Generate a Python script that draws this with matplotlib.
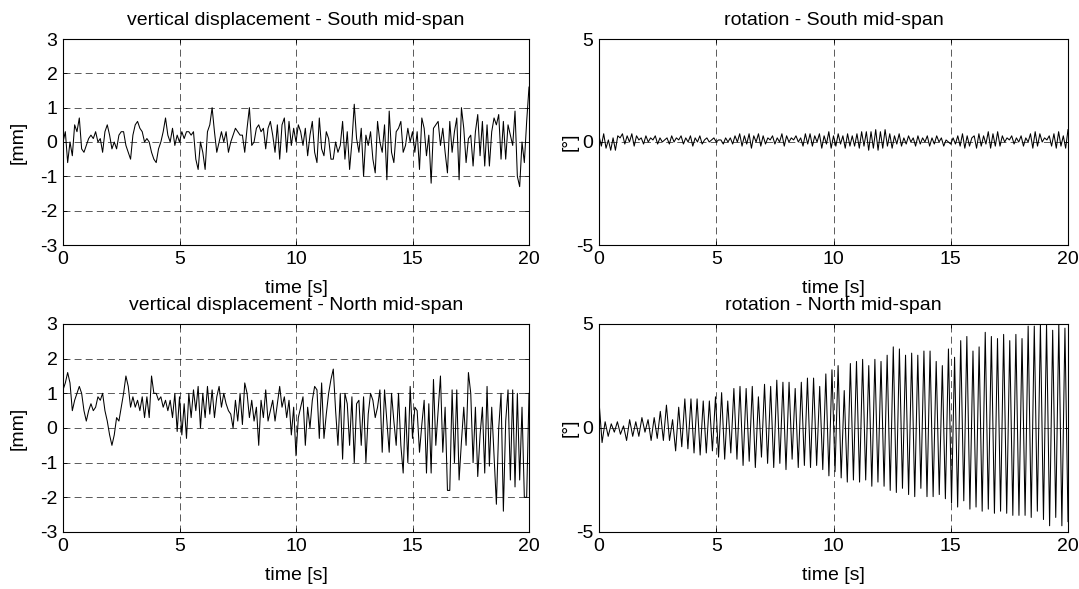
import numpy as np
import matplotlib
matplotlib.use('Agg')
import matplotlib.pyplot as plt

plt.rcParams['font.family'] = ['Liberation Sans', 'DejaVu Sans']
plt.rcParams['axes.unicode_minus'] = False
plt.rcParams['lines.scale_dashes'] = False

# vertical displacement, South mid-span [mm], sampled every 0.1 s from 0 to 20 s
disp_south = [
    0.0, 0.3, -0.6, 0.0, -0.4, 0.5, 0.3, 0.7, -0.2, -0.3,
    -0.1, 0.1, 0.2, 0.1, 0.3, 0.0, 0.1, -0.3, 0.3, 0.5,
    0.2, -0.2, 0.0, -0.2, 0.2, 0.3, 0.3, -0.1, -0.3, -0.5,
    0.2, 0.5, 0.6, 0.4, 0.3, 0.0, 0.1, 0.0, -0.3, -0.5,
    -0.6, -0.2, 0.0, 0.3, 0.7, 0.2, 0.0, 0.4, -0.1, 0.2,
    0.0, 0.3, 0.1, 0.3, 0.3, 0.2, 0.3, -0.5, -0.8, 0.0,
    -0.3, -0.8, 0.3, 0.5, 1.0, 0.3,
    -0.3, 0.0, 0.3, 0.0,
    0.3, -0.3, 0.0, 0.2, 0.4, 0.3, 0.2, 0.2, -0.3, 0.4,
    1.0, -0.1, 0.0, 0.4, 0.5, 0.3, 0.4, -0.2, 0.4, 0.6,
    0.2, -0.3, 0.5, -0.5, 0.5, 0.7, -0.3, 0.6, -0.1, 0.4,
    0.0, 0.5, 0.3, -0.1, 0.4, -0.4, 0.2, 0.6, -0.3, -0.6,
    0.7, -0.2, -0.4, 0.3, 0.1, -0.5, -0.5, 0.0, -0.3, -0.1,
    0.6, -0.5, 0.3, -0.8, 0.0, 1.1, 0.1, -0.3, 0.4, -1.0,
    0.2, -0.1, 0.3,
    -0.5, -0.9, 0.6, 0.0, -0.3, 0.5, -1.1,
    0.9, -0.3, -0.6, 0.3, 0.4, 0.6, -0.3, -0.1, 0.4, 0.0,
    0.3, -0.3, 0.3, -0.8, 0.7, 0.4, -0.4, 0.2, -1.2, 0.4,
    0.5, 0.6, -0.1, 0.4, -0.3, -0.9, 0.6, -0.3, 0.3, 0.7,
    -1.1, 1.0, 0.4, -0.6, 0.1, 0.2, -0.7, 0.3, 0.8, -0.4,
    0.6, -0.7, 0.5, -0.7, 0.3, 0.7, 0.5, 0.8, -0.5, 0.6,
    -0.5, 0.5, 0.2, -0.1, 0.9, -1.0, -1.3, 0.0, -0.6, 0.6,
    1.6,
]

# vertical displacement, North mid-span [mm], every 0.1 s
disp_north = [
    1.1, 1.3, 1.6, 1.3, 0.5, 0.8, 1.0, 1.2, 1.0, 0.5,
    0.2, 0.5, 0.7, 0.5, 0.6, 0.9, 0.8, 1.0, 0.5, 0.2,
    -0.2, -0.5, -0.2, 0.3, 0.2, 0.6, 1.0, 1.5, 1.2, 0.6,
    0.9, 0.6, 0.8, 0.5, 0.9, 0.3, 0.9, 0.3, 1.5, 1.0,
    1.0, 0.8, 0.9, 0.6, 0.8, 0.5, 0.8, 0.3, 1.0, -0.1,
    0.9, -0.2, 0.7, -0.3, 1.0, 0.3, 1.1, 0.5, 1.2, 0.0,
    1.0, 0.3, 1.2, 0.4, 1.1, 0.3,
    0.9, 1.2, 0.6, 1.0,
    0.7, 0.5, 0.4, 0.0, 0.8, 0.2, 1.0, 0.1, 1.3, 1.0,
    0.3, 0.8, 0.2, 0.6, -0.5, 0.8, 0.3, 1.1, 0.2, 0.5,
    0.8, 0.2, 0.7, 1.2, 0.6, 0.9, 0.3, 0.8, -0.2, 0.6,
    -0.8, 0.3, 0.6, 0.9, -0.5, 0.6, 0.0, 0.8, 1.2, 1.1,
    -0.3, 1.3, -0.3, 0.4, 1.0, 1.4, 1.7, 0.5, -0.5, 1.0,
    -0.9, 1.0, 0.7, -0.5, 0.9, -1.0, 0.7, 0.8, -0.5, 0.9,
    -1.0, 0.4, 1.0,
    0.8, 0.3, 0.6, 1.1, -0.7, 1.1, 0.2,
    -0.7, 1.0, 0.2, -0.5, 1.0, -0.5, -1.3, 0.6, -1.0, 1.2,
    -0.3, 0.6, 0.5, -0.7, 0.1, 0.8, -1.3, 0.7, -1.3, 1.4,
    -0.5, 0.5, 1.5, -0.7, 0.6, -1.8, -1.8, 1.1, -1.0, 1.1,
    -1.5, -0.4, 0.6, -0.5, 1.6, 1.0, -1.0, 0.6, -1.4, -0.2,
    0.6, -1.3, 1.2, -1.1, 0.6, -0.8, -2.2, 0.0, 1.0, -2.4,
    0.2, 1.1, -1.5, 1.1, -1.7, 1.0, -1.5, 0.6, -2.0, -2.0,
    1.0,
]

# rotation, South mid-span [deg], every 0.1 s
rot_south = [
    0.3, -0.2, 0.4, -0.3, 0.1, -0.4, 0.2, -0.4, 0.3, 0.2,
    0.4, -0.1, 0.3, 0.0, 0.4, -0.2, 0.3, 0.1, 0.2, -0.1,
    0.3, 0.0, 0.2, 0.1, 0.3, -0.1, 0.2, 0.0, 0.1, 0.2,
    -0.1, 0.3, 0.0, 0.2, 0.1, 0.3, -0.1, 0.2, 0.0, 0.3,
    -0.2, 0.2, 0.0, 0.3, -0.1, 0.1, 0.2, 0.0, 0.1, 0.2,
    0.0, 0.1, 0.1, -0.1, 0.2, 0.0, 0.2, -0.1, 0.3, 0.0,
    0.4, -0.2, 0.3, -0.1, 0.4, -0.3, 0.3, 0.0, 0.4, -0.2,
    0.3, -0.1, 0.2, 0.1, 0.3, -0.1, 0.2, 0.0, 0.4, -0.2,
    0.3, 0.0, 0.2, 0.1, 0.3, 0.0, 0.2, -0.2, 0.4, -0.1,
    0.4, -0.2, 0.3, 0.0, 0.4, -0.3, 0.3, -0.1, 0.5, -0.3,
    0.3, -0.2, 0.4, -0.1, 0.3, -0.3, 0.4, -0.2, 0.3, -0.2,
    0.4, -0.3, 0.5, -0.2, 0.5, -0.4, 0.5, -0.3, 0.6, -0.4,
    0.5, -0.3, 0.6, -0.2, 0.4, -0.3, 0.3, -0.1, 0.4, -0.2,
    0.2, -0.1, 0.3, 0.0, 0.2, -0.2, 0.3, -0.1, 0.2, 0.0,
    0.3, -0.2, 0.2, -0.1, 0.3, 0.0, 0.2, -0.2, 0.1, 0.0,
    -0.1, 0.2, -0.1, 0.3, -0.2, 0.4, -0.3, 0.3, -0.2, 0.2,
    0.3, -0.3, 0.4, -0.2, 0.3, -0.1, 0.5, -0.3, 0.4, -0.2,
    0.5, -0.2, 0.3, 0.0, 0.2, 0.1, 0.3, -0.1, 0.2, 0.0,
    0.3, -0.2, 0.2, 0.0, 0.4, -0.3, 0.5, -0.2, 0.4, 0.0,
    0.2, 0.1, 0.3, -0.2, 0.4, -0.3, 0.5, -0.2, 0.3, -0.3,
    0.6,
]

# rotation, North mid-span [deg]: successive peak / trough values over 0-20 s
rot_north = [
    1.3, -0.7, 0.3, -0.4, 0.2, -0.2, 0.3, -0.3, 0.1, -0.6,
    0.4, -0.4, 0.3, -0.4, 0.5, -0.2, 0.4, -0.6, 0.5, -0.5,
    0.8, -0.6, 1.1, -0.6, 0.4, -1.1, 1.0, -0.9, 1.4, -1.0,
    1.4, -1.2, 1.4, -1.3, 1.3, -1.2, 1.3, -1.1, 1.5, -1.4,
    1.7, -1.5, 1.3, -1.2, 1.9, -1.5, 2.0, -1.8, 1.9, -1.6,
    2.0, -1.9, 1.5, -1.4, 2.1, -1.7, 2.0, -1.9, 2.3, -1.7,
    2.2, -2.0, 2.2, -1.5, 1.9, -1.9, 2.2, -1.8, 2.4, -1.9,
    2.4, -1.8, 2.0, -2.0, 2.6, -2.3, 2.8, -2.1, 3.0, -2.4,
    1.8, -2.6, 3.1, -2.5, 3.2, -2.6, 3.3, -2.5, 3.0, -2.8,
    3.3, -2.6, 3.2, -2.8, 3.5, -3.0, 3.9, -3.1, 3.8, -2.9,
    3.5, -3.2, 3.6, -3.3, 3.5, -2.9, 3.7, -3.3, 3.7, -3.3,
    3.2, -3.2, 3.0, -3.4, 3.8, -3.6, 3.4, -3.8, 4.2, -3.5,
    4.4, -3.9, 3.7, -3.8, 3.9, -4.0, 4.6, -3.9, 4.4, -4.1,
    4.3, -4.0, 4.5, -4.1, 4.2, -4.2, 4.5, -4.2, 4.3, -4.2,
    4.9, -4.3, 4.9, -4.0, 5.0, -4.4, 5.0, -4.7, 4.7, -4.3,
    5.0, -4.7, 4.8, -4.5,
]

titles = ["vertical displacement - South mid-span", "rotation - South mid-span",
          "vertical displacement - North mid-span", "rotation - North mid-span"]
ylabels = ["[mm]", "[°]", "[mm]", "[°]"]
xticks = [0, 5, 10, 15, 20]
yticks_disp = [-3, -2, -1, 0, 1, 2, 3]
yticks_rot = [-5, 0, 5]

series = [disp_south, rot_south, disp_north, rot_north]
yticks = [yticks_disp, yticks_rot, yticks_disp, yticks_rot]

W, H = 1079, 589
fig = plt.figure(figsize=(W / 100, H / 100), dpi=100)
lefts = [63, 599]
widths = [466, 469]
tops = [39, 324]
heights = [206, 208]
ylabel_x = [-0.077, -0.044]

fs = 14
for i in range(4):
    r, c = divmod(i, 2)
    ax = fig.add_axes([lefts[c] / W, 1 - (tops[r] + heights[r]) / H,
                       widths[c] / W, heights[r] / H])
    y = np.asarray(series[i], dtype=float)
    t = np.linspace(0, 20, len(y))
    ax.plot(t, y, color='black', lw=0.75)
    ax.set_xlim(0, 20)
    ax.set_ylim(yticks[i][0], yticks[i][-1])
    ax.set_xticks(xticks)
    ax.set_yticks(yticks[i])
    ax.grid(True, color='black', linestyle=(0, (5, 3)), lw=0.6, alpha=0.75)
    ax.tick_params(axis='x', direction='in', top=True, length=3, width=0.6,
                   labelsize=fs, pad=4)
    ax.tick_params(axis='y', direction='in', right=True, length=3, width=0.6,
                   labelsize=fs, pad=4)
    for s in ax.spines.values():
        s.set_linewidth(0.8)
    ax.set_title(titles[i], fontsize=fs, pad=10)
    ax.set_xlabel("time [s]", fontsize=fs, labelpad=9)
    ax.set_ylabel(ylabels[i], fontsize=fs)
    ax.yaxis.set_label_coords(ylabel_x[c], 0.5)

fig.savefig("out.png", dpi=100)
